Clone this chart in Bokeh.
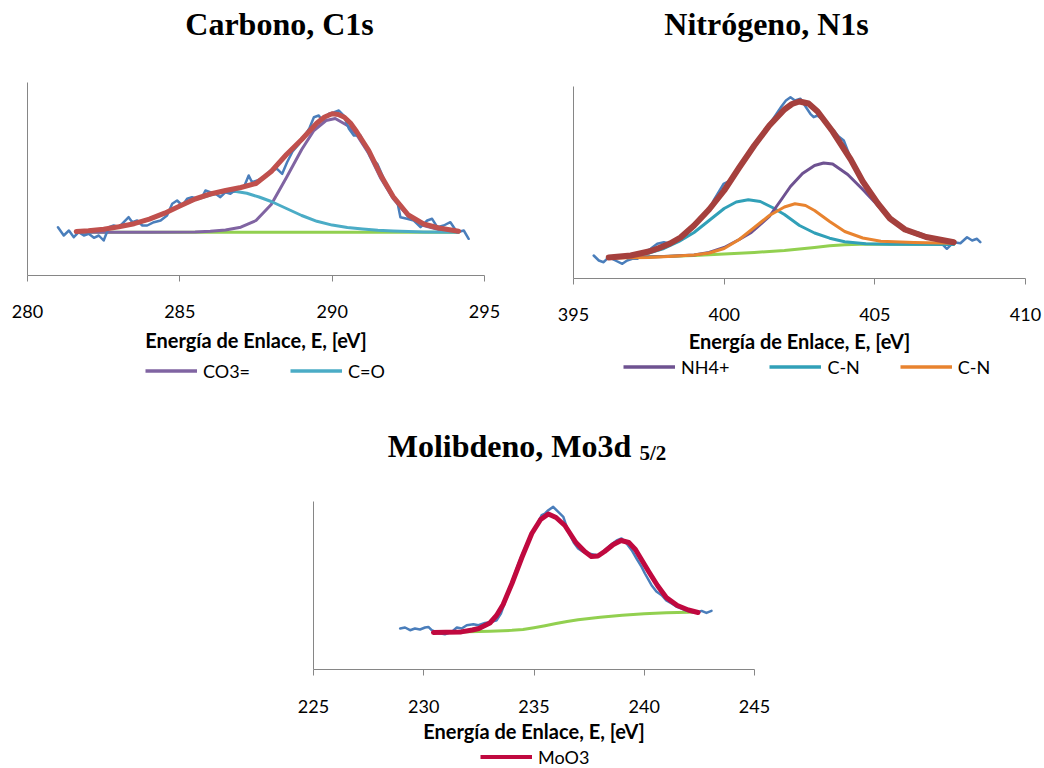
from bokeh.plotting import figure
from bokeh.models import Range1d, FixedTicker, Legend, LegendItem, Label
from bokeh.layouts import column, row
from bokeh.embed import file_html
from bokeh.resources import INLINE

# ---------------- Carbono, C1s ----------------
c_ticks = [280, 285, 290, 295]
c_raw_e = [281.0, 281.19, 281.36, 281.52, 281.68, 281.85, 282.01, 282.18, 282.34, 282.5,
           282.67, 282.83, 283.0, 283.16, 283.32, 283.44, 283.6, 283.77, 283.93, 284.15,
           284.37, 284.58, 284.75, 284.91, 285.08, 285.24, 285.4, 285.57, 285.73, 285.84,
           286.0, 286.17, 286.33, 286.5, 286.66, 286.88, 287.1, 287.26, 287.37, 287.54,
           287.76, 287.98, 288.19, 288.36, 288.52, 288.7, 288.9, 289.1, 289.25, 289.4,
           289.56, 289.67, 289.89, 290.05, 290.22, 290.38, 290.55, 290.71, 290.93, 291.04,
           291.26, 291.48, 291.65, 291.81, 291.97, 292.13, 292.24, 292.46, 292.68, 292.9,
           293.12, 293.28, 293.45, 293.66, 293.88, 294.1, 294.32, 294.48]
c_raw = [48.3, 40, 45, 38.3, 43.3, 40, 41.7, 37.7, 40, 35,
         48.3, 50, 48.3, 53.3, 58.3, 53.3, 55, 50, 50, 53.3,
         55, 60, 71.7, 75, 70, 76.7, 78.3, 76.7, 78.3, 85,
         83.3, 81.7, 78.3, 83.3, 81.7, 86.7, 88.3, 100, 93.3, 95,
         98.3, 105, 106.7, 101.7, 113.3, 124, 131, 140, 147, 158.3,
         160, 155, 161.7, 163, 165, 160, 146.7, 140, 140, 131.7,
         118.3, 111.7, 100, 88.3, 80, 75, 58.3, 56.7, 55, 48.3,
         55, 56.7, 48.3, 50, 53.3, 43.3, 45, 36.7]
c_fit_e = [281.6, 282.0, 282.5, 283.0, 283.5, 284.0, 284.5, 285.0, 285.5, 286.0,
           286.5, 287.0, 287.5, 288.0, 288.5, 289.0, 289.5, 289.75, 290.0, 290.2,
           290.4, 290.6, 290.8, 291.2, 291.6, 292.0, 292.5, 293.0, 293.5, 294.15]
c_fit = [44, 44.8, 46.3, 48.7, 51.8, 56.3, 62.3, 69.5, 76.5, 81.5,
         85, 88, 92, 104, 121, 136, 152.5, 158.5, 161.7, 161,
         158.3, 152.5, 144, 125, 100, 79, 60.5, 51.5, 47.5, 44.3]
c_co3_e = [281.6, 284.0, 285.5, 286.0, 286.5, 287.0, 287.5, 288.0, 288.5, 289.0,
           289.4, 289.8, 290.1, 290.5, 290.8, 291.2, 291.6, 292.0, 292.5, 293.0,
           293.5, 294.15]
c_co3 = [43.3, 43.3, 43.6, 44.2, 45.5, 48.3, 55, 71, 98, 126,
         145, 155, 157, 150, 141, 122, 97, 77, 59, 50,
         46, 44]
c_co_e = [281.6, 282.0, 282.5, 283.0, 283.5, 284.0, 284.5, 285.0, 285.5, 286.0,
          286.4, 286.8, 287.2, 287.6, 288.0, 288.5, 289.0, 289.5, 290.0, 290.5,
          291.0, 291.5, 292.0, 292.5, 293.0, 294.15]
c_co = [44, 44.8, 46.3, 48.5, 51.5, 56, 62, 69.5, 76, 80.5,
        83.2, 84.2, 82.2, 78.5, 74, 67, 60, 54.2, 50.4, 48,
        46.5, 45.3, 44.6, 44, 43.6, 43.3]
c_bg_e = [281.6, 294.15]
c_bg = [43.3, 43.3]

# ---------------- Nitrógeno, N1s ----------------
n_ticks = [395, 400, 405, 410]
n_raw_e = [395.67, 395.84, 396.0, 396.17, 396.39, 396.62, 396.78, 396.95, 397.12, 397.34,
           397.56, 397.78, 398.0, 398.22, 398.45, 398.7, 398.95, 399.2, 399.45, 399.65,
           399.85, 399.98, 400.2, 400.45, 400.7, 400.95, 401.2, 401.45, 401.7, 401.9,
           402.05, 402.2, 402.35, 402.53, 402.7, 402.86, 402.97, 403.1, 403.3, 403.55,
           403.8, 403.97, 404.2, 404.45, 404.7, 404.95, 405.2, 405.45, 405.73, 405.95,
           406.2, 406.4, 406.6, 406.9, 407.17, 407.39, 407.62, 407.84, 408.06, 408.23,
           408.39, 408.5]
n_raw = [23, 18, 16.3, 21.3, 18, 14.7, 18, 19.7, 19.7, 26.3,
         29.7, 34.7, 36.3, 34.7, 38, 44, 50, 58, 66, 78,
         88, 94.7, 98, 108, 120, 131, 142, 152, 163, 172,
         178, 181.3, 178, 179.7, 172, 164.7, 161.3, 163, 158, 151,
         142, 138, 120, 106, 92, 80, 70, 61, 56.3, 50,
         47, 46.3, 44, 40, 36.3, 29.7, 36.3, 35.3, 41.3, 38,
         39.7, 36.3]
n_fit_e = [396.17, 396.9, 397.5, 397.8, 398.2, 398.55, 399.0, 399.5, 400.0, 400.5,
           401.0, 401.5, 402.0, 402.25, 402.5, 402.8, 403.1, 403.6, 404.2, 404.6,
           405.1, 405.5, 406.0, 406.7, 407.62]
n_fit = [21, 23, 27, 30, 35, 41, 53, 69, 88, 111,
         133, 153, 169, 174.5, 177, 175, 167, 147, 119, 97,
         75, 60, 49, 41.5, 36.3]
n_nh4_e = [396.17, 398.0, 399.0, 399.5, 400.0, 400.5, 400.9, 401.5, 401.9, 402.2,
           402.6, 403.0, 403.3, 403.6, 404.1, 404.6, 405.1, 405.5, 406.0, 406.7,
           407.62]
n_nh4 = [20.5, 22, 23.5, 26, 31, 39, 46, 62, 79, 92,
         105, 113, 115.5, 114.5, 104, 89, 73, 59, 48, 40.5,
         36]
n_cn1_e = [396.17, 396.9, 397.5, 398.0, 398.5, 399.0, 399.5, 400.0, 400.4, 400.8,
           401.2, 401.6, 402.0, 402.5, 403.0, 403.5, 404.0, 404.7, 405.5, 407.62]
n_cn1 = [21, 22.5, 25.5, 30, 37, 46, 58, 70, 76.5, 78.7,
         77, 71, 64, 53, 45.5, 40.3, 36.8, 34.7, 34.2, 34]
n_cn2_e = [396.17, 397.5, 398.3, 399.0, 399.5, 400.0, 400.5, 401.0, 401.5, 402.0,
           402.35, 402.7, 403.0, 403.5, 404.0, 404.6, 405.2, 406.3, 407.62]
n_cn2 = [20.5, 21, 22.3, 23.5, 25.5, 30, 39, 51, 63, 71.5,
         74.7, 73, 68, 57, 47, 40.5, 37.3, 36, 35.3]
n_bg_e = [396.17, 398.0, 399.0, 400.0, 401.0, 402.0, 402.5, 403.0, 403.5, 404.0,
          404.5, 405.0, 407.62]
n_bg = [21, 22, 23, 24.5, 26, 28, 29.5, 31, 32.7, 33.8,
        34.2, 34.3, 34.3]

# ---------------- Molibdeno, Mo3d 5/2 ----------------
m_ticks = [225, 230, 235, 240, 245]
m_raw_e = [228.93, 229.15, 229.38, 229.6, 229.83, 230.06, 230.21, 230.36, 230.66, 230.96,
           231.27, 231.5, 231.72, 231.95, 232.25, 232.48, 232.78, 233.08, 233.31, 233.5,
           233.69, 233.9, 234.1, 234.3, 234.5, 234.7, 234.9, 235.05, 235.2, 235.35,
           235.5, 235.65, 235.87, 236.1, 236.33, 236.55, 236.8, 237.0, 237.2, 237.46,
           237.7, 237.91, 238.1, 238.3, 238.5, 238.75, 238.97, 239.2, 239.43, 239.65,
           239.88, 240.03, 240.33, 240.55, 240.79, 241.0, 241.24, 241.45, 241.69, 241.9,
           242.15, 242.4, 242.6, 242.82, 243.05]
m_raw = [41, 42, 39.3, 41, 40, 42, 42.6, 39.3, 36.6, 35.3,
         37.6, 42, 41, 44.3, 45.3, 44.3, 46.6, 47.6, 49.3, 56,
         67.6, 80, 94, 106, 117, 127, 136, 141, 148, 154.3,
         156, 159.3, 162.6, 157.6, 152.6, 138, 127, 121, 118, 116,
         115, 114.3, 117, 121, 125, 129, 131, 126, 119.3, 111,
         102.6, 96, 84.3, 78, 74.3, 69, 66, 63, 61, 59,
         57.6, 57, 58.6, 56.6, 58.6]
m_fit_e = [230.44, 231.0, 231.7, 232.2, 232.5, 233.0, 233.3, 233.6, 234.0, 234.45,
           234.9, 235.3, 235.65, 236.0, 236.4, 236.9, 237.3, 237.6, 237.9, 238.2,
           238.6, 238.95, 239.3, 239.6, 239.9, 240.2, 240.6, 241.0, 241.5, 242.0,
           242.44]
m_fit = [37, 37.2, 37.6, 39.5, 41, 46.5, 54, 65, 86, 112,
         136, 150, 155.5, 152, 144, 127, 118, 113, 113.5, 118,
         125, 129, 127, 120, 109, 98, 84, 72, 64, 59.5,
         57]
m_bg_e = [230.44, 232.0, 233.0, 234.0, 234.5, 235.0, 235.5, 236.0, 236.5, 237.0,
          237.5, 238.0, 238.5, 239.0, 239.5, 240.0, 240.5, 241.0, 241.5, 242.0,
          242.44]
m_bg = [37.5, 37.7, 38.3, 39.2, 40, 41.8, 43.8, 46, 48, 49.7,
        51, 52.2, 53.3, 54.2, 55, 55.7, 56.3, 56.8, 57.1, 57.3,
        57.4]

AXIS = "#868686"
BLUE = "#4A7EBB"
GREEN = "#92D050"
X_TITLE = "Energía de Enlace, E, [eV]"
TICK_FONT = "Lato"
TITLE_FONT = "Liberation Serif"


def panel(width, height, xr, ytop, yspan, ticks, left, right, tick_standoff, label_standoff):
    # the frame reaches the top of the canvas so the heading fits inside it;
    # the y axis line itself only covers 0..yspan
    p = figure(width=width, height=height, x_range=Range1d(*xr), y_range=Range1d(0, ytop),
               output_backend="svg", toolbar_location=None, tools="",
               min_border_left=left, min_border_right=right,
               min_border_top=0, min_border_bottom=height - ytop)
    p.outline_line_color = None
    p.xgrid.visible = False
    p.ygrid.visible = False
    xa = p.xaxis[0]
    xa.ticker = FixedTicker(ticks=ticks)
    xa.major_tick_out = 6
    xa.major_tick_in = 0
    xa.minor_tick_line_color = None
    xa.axis_line_color = AXIS
    xa.major_tick_line_color = AXIS
    xa.major_label_text_font = TICK_FONT
    xa.major_label_text_font_size = "18px"
    xa.major_label_text_color = "black"
    xa.major_label_standoff = tick_standoff
    xa.axis_label = X_TITLE
    xa.axis_label_text_font = TICK_FONT
    xa.axis_label_text_font_style = "bold"
    xa.axis_label_text_font_size = "20px"
    xa.axis_label_text_color = "black"
    xa.axis_label_standoff = label_standoff
    ya = p.yaxis[0]
    ya.ticker = FixedTicker(ticks=[])
    ya.bounds = (0, yspan)
    ya.major_tick_line_color = None
    ya.minor_tick_line_color = None
    ya.major_label_text_font_size = "0px"
    ya.axis_line_color = AXIS
    return p


def curve(p, e, v, color, width):
    return p.line(e, v, line_color=color, line_width=width,
                  line_join="round", line_cap="round")


def legend_strip(width, height, left, right, entries, spacing, x, y):
    # a bare strip under a panel that only carries its legend; each entry
    # repeats its series as a hidden line so the key picks up its style
    f = figure(width=width, height=height, x_range=Range1d(0, width), y_range=Range1d(0, height),
               output_backend="svg", toolbar_location=None, tools="",
               x_axis_location=None, y_axis_location=None,
               min_border_left=left, min_border_right=right,
               min_border_top=0, min_border_bottom=0)
    f.outline_line_color = None
    f.xgrid.visible = False
    f.ygrid.visible = False
    items = []
    for label, e, v, color, lw in entries:
        r = f.line(e, v, line_color=color, line_width=lw, visible=False)
        items.append(LegendItem(label=label, renderers=[r]))
    leg = Legend(items=items, orientation="horizontal", location=(x, y),
                 label_text_font=TICK_FONT, label_text_font_size="18px",
                 label_text_color="black",
                 glyph_width=52, glyph_height=17, label_height=17,
                 label_standoff=6, spacing=spacing, padding=0, margin=0,
                 inactive_fill_alpha=0,
                 border_line_color=None, background_fill_alpha=0)
    f.add_layout(leg, "center")
    return f


def title(p, text, x, y, size="32px", align="center"):
    p.add_layout(Label(x=x, y=y, x_units="screen", y_units="data", text=text,
                       text_font=TITLE_FONT, text_font_style="bold",
                       text_font_size=size, text_align=align,
                       text_baseline="alphabetic", text_color="black"))


C_CO3, C_CO = "#8064A2", "#4BACC6"
N_NH4, N_CN1, N_CN2 = "#6E5291", "#31A0B8", "#E8832F"
M_FIT = "#C0093F"

# Carbon panel
p1 = panel(522, 356, (280, 295), 275, 193, c_ticks, 27, 38, 23, 7)
curve(p1, c_bg_e, c_bg, GREEN, 3)
curve(p1, c_co3_e, c_co3, C_CO3, 3)
curve(p1, c_co_e, c_co, C_CO, 3)
curve(p1, c_raw_e, c_raw, BLUE, 2.5)
curve(p1, c_fit_e, c_fit, "#C0504D", 5)
title(p1, "Carbono, C1s", 252, 251.5)
l1 = legend_strip(522, 34, 27, 38,
                  [("CO3=", c_co3_e, c_co3, C_CO3, 3.5), ("C=O", c_co_e, c_co, C_CO, 3.5)],
                  40, 118, 8.5)

# Nitrogen panel
p2 = panel(522, 356, (395, 410), 278, 192, n_ticks, 51, 19, 23, 5)
curve(p2, n_bg_e, n_bg, GREEN, 3)
curve(p2, n_raw_e, n_raw, BLUE, 2.5)
curve(p2, n_cn1_e, n_cn1, N_CN1, 3)
curve(p2, n_nh4_e, n_nh4, N_NH4, 3)
curve(p2, n_cn2_e, n_cn2, N_CN2, 3)
curve(p2, n_fit_e, n_fit, "#A5403D", 6)
title(p2, "Nitrógeno, N1s", 193, 254.5)
l2 = legend_strip(522, 34, 51, 19,
                  [("NH4+", n_nh4_e, n_nh4, N_NH4, 3.5), ("C-N", n_cn1_e, n_cn1, N_CN1, 3.5),
                   ("C-N", n_cn2_e, n_cn2, N_CN2, 3.5)],
                  40, 50, 12.1)

# Molybdenum panel
p3 = panel(1044, 357, (225, 245), 279, 168.3, m_ticks, 313, 290, 24, 3)
curve(p3, m_bg_e, m_bg, GREEN, 3)
curve(p3, m_raw_e, m_raw, BLUE, 2.5)
curve(p3, m_fit_e, m_fit, M_FIT, 5)
title(p3, "Molibdeno, Mo3d", 196, 224)
title(p3, "5/2", 326, 216.6, size="21px", align="left")
l3 = legend_strip(1044, 21, 313, 290, [("MoO3", m_fit_e, m_fit, M_FIT, 4)], 40, 167, 0.2)

layout = column(row(column(p1, l1), column(p2, l2)), column(p3, l3))
open("out.html", "w").write(file_html(layout, INLINE))
